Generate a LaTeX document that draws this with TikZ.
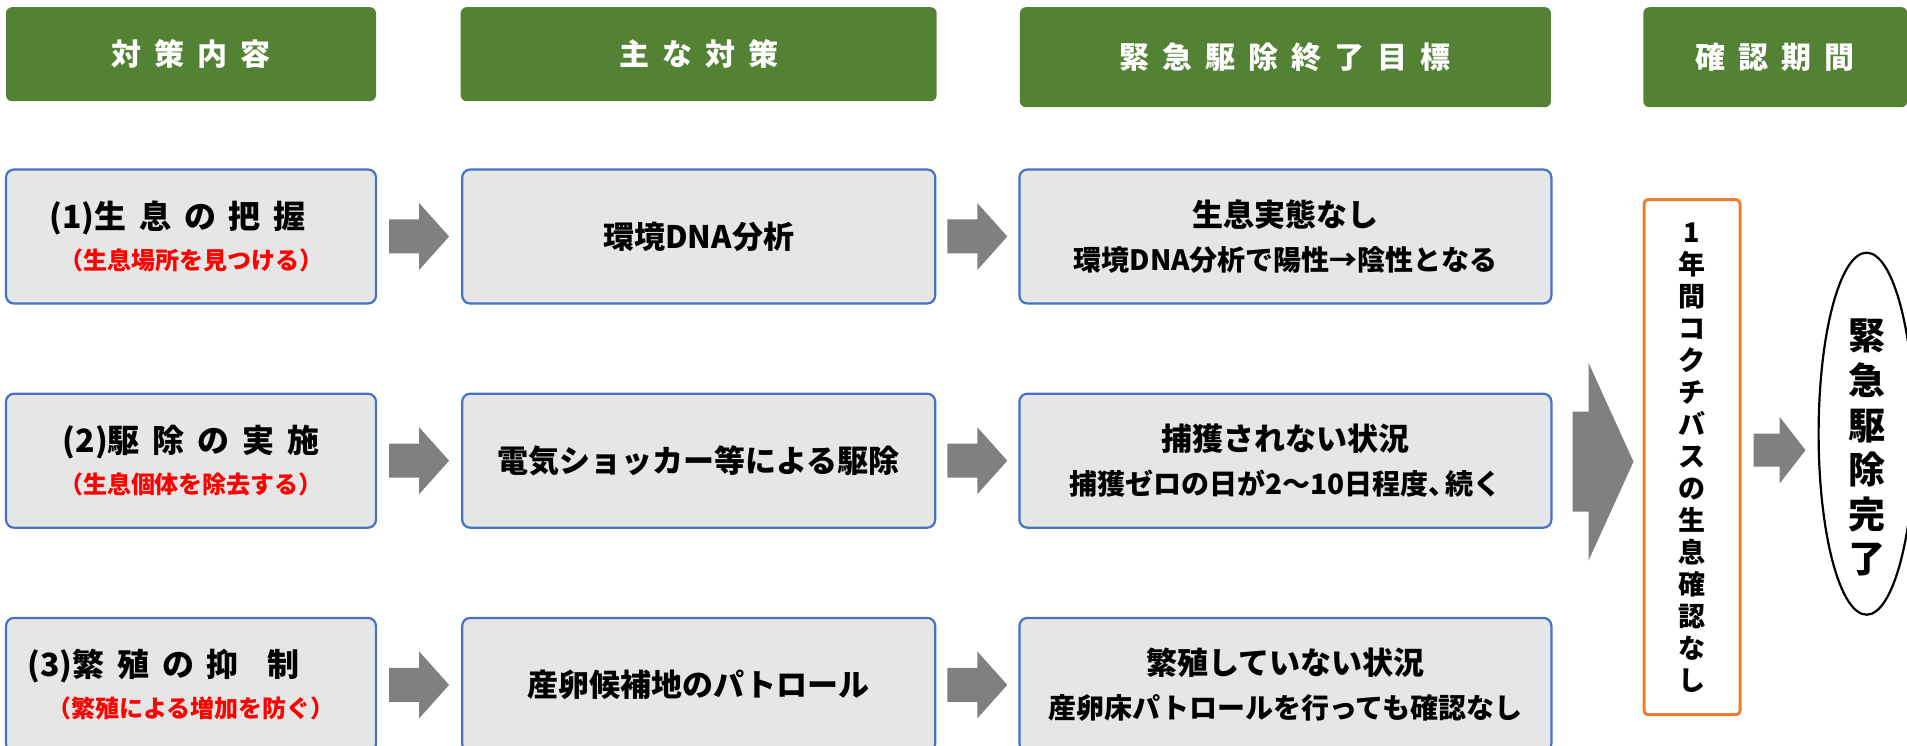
\documentclass[tikz,border=0pt]{standalone}
\usepackage{fontspec}
\setmainfont{Noto Sans CJK JP}
\usetikzlibrary{positioning, shapes.geometric, calc}
\definecolor{headgreen}{RGB}{84,130,53}
\definecolor{boxblue}{RGB}{68,114,196}
\definecolor{boxgray}{RGB}{231,230,230}
\definecolor{checkorange}{RGB}{237,125,49}
\definecolor{arrowgray}{RGB}{128,128,128}
\definecolor{alertred}{RGB}{255,0,0}
\newcommand{\gap}{\hspace{0.4em}}
\newcommand{\hgap}{\hspace{13pt}}
\tikzset{
  pics/blockarrow/.style n args={4}{code={
    \fill[arrowgray] (-#1/2,-#3) -- (#1/2-#2,-#3) -- (#1/2-#2,-#4) -- (#1/2,0)
      -- (#1/2-#2,#4) -- (#1/2-#2,#3) -- (-#1/2,#3) -- cycle;
  }}
}

\begin{document}
\begin{tikzpicture}[x=1pt, y=-1pt]
		\tikzstyle{header} = [rectangle, rounded corners=6pt, fill=headgreen, text=white, minimum height=94pt, font=\fontsize{30}{36}\selectfont\bfseries]
		
		\tikzstyle{taskbox} = [rectangle, rounded corners=8pt, draw=boxblue, line width=2.2pt, fill=boxgray, minimum width=370pt, minimum height=134pt, align=center, font=\fontsize{24}{41}\selectfont\bfseries]
		
		\tikzstyle{planbox} = [taskbox, minimum width=473pt, font=\fontsize{31}{36}\selectfont\bfseries]
		
		\tikzstyle{goalbox} = [taskbox, minimum width=532pt, font=\fontsize{28}{44.5}\selectfont\bfseries]
		
		\tikzstyle{checkbox} = [rectangle, rounded corners=4pt, draw=checkorange, line width=3pt, fill=white, minimum width=96pt, minimum height=515pt, align=center, font=\fontsize{27}{32}\selectfont\bfseries]
		
		\tikzstyle{finalbox} = [ellipse, draw=black, line width=2.2pt, fill=white, minimum width=96pt, minimum height=362pt]
		\tikzstyle{finaltext} = [align=center, font=\fontsize{37}{44.6}\selectfont\bfseries]
		%-------------------------------------------------------
		\useasboundingbox (0,0) rectangle (1907,746);
		
		% rows of measures
		\node (task1) [taskbox] at (191,236.5) {{\fontsize{32}{41}\selectfont (1)生\gap 息\gap の\gap 把\gap 握\hspace*{27pt}\null}\\ \textcolor{alertred}{（生息場所を見つける）}};
		\node (plan1) [planbox, right=84pt of task1] {環境DNA分析};
		\node (goal1) [goalbox, right=82pt of plan1] {{\fontsize{31}{44.5}\selectfont 生息実態なし}\\ 環境DNA分析で陽性→陰性となる};
		
		\node (task2) [taskbox, below=88pt of task1] {{\fontsize{32}{41}\selectfont (2)駆\gap 除\gap の\gap 実\gap 施}\\ \textcolor{alertred}{（生息個体を除去する）}};
		\node (plan2) [planbox, right=84pt of task2] {電気ショッカー等による駆除};
		\node (goal2) [goalbox, right=82pt of plan2] {{\fontsize{31}{44.5}\selectfont 捕獲されない状況}\\ 捕獲ゼロの日が2〜10日程度、\kern-0.4em 続く};
		
		\node (task3) [taskbox, below=88pt of task2] {{\fontsize{32}{41}\selectfont (3)繁\gap 殖\gap の\gap 抑\hspace{0.9em}制\hspace*{55pt}\null}\\ \textcolor{alertred}{（繁殖による増加を防ぐ）}};
		\node (plan3) [planbox, right=84pt of task3] {産卵候補地のパトロール};
		\node (goal3) [goalbox, right=82pt of plan3] {{\fontsize{31}{44.5}\selectfont 繁殖していない状況}\\ 産卵床パトロールを行っても確認なし};
		
		% headers
		\node (hTask) [header, minimum width=370pt, above=67pt of task1] {対\hgap 策\hgap 内\hgap 容};
		\node (hPlan) [header, minimum width=476pt, above=67pt of plan1] {主\hgap な\hgap 対\hgap 策};
		\node (hGoal) [header, minimum width=531pt, minimum height=100pt, above=61pt of goal1] {緊\hgap 急\hgap 駆\hgap 除\hgap 終\hgap 了\hgap 目\hgap 標};
		\node (hCheck) [header, minimum width=264pt, minimum height=100pt, right=92pt of hGoal] {確\hgap 認\hgap 期\hgap 間};
		
		% check period and result
		\node (check) [checkbox, right=90pt of goal2, yshift=3.5pt] {1\\年\\間\\コ\\ク\\チ\\バ\\ス\\の\\生\\息\\確\\認\\な\\し};
		\node (done) [finalbox, right=76pt of check, yshift=23.5pt] {};
		\node (doneText) [finaltext] at ([yshift=-14pt]done.center) {緊\\急\\駆\\除\\完\\了};
		
		\foreach \r in {1,2,3} {
			\pic at ($(task\r.east)!0.5!(plan\r.west)$) {blockarrow={60}{30}{17}{33.5}};
			\pic at ($(plan\r.east)!0.5!(goal\r.west)$) {blockarrow={60}{30}{17}{33.5}};
		}
		\pic at ($(goal2.east)!0.5!(check.west)+(5.5,2.75)$) {blockarrow={61}{45}{50}{99}};
		\pic at ($(check.east)!0.5!(done.west)+(0,4.75)$) {blockarrow={52}{26}{16.5}{33.5}};
\end{tikzpicture}
\end{document}
